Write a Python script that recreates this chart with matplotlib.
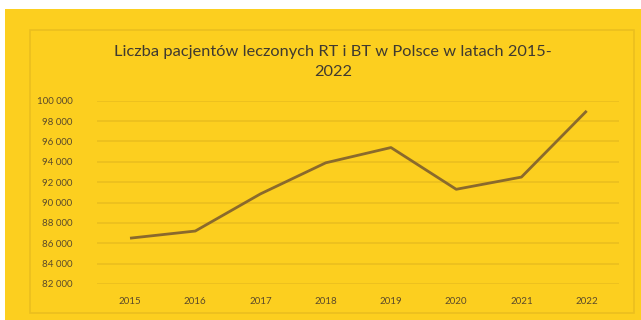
import matplotlib
matplotlib.use("Agg")
import matplotlib.pyplot as plt
from matplotlib.patches import Rectangle
from matplotlib.ticker import FuncFormatter

years    = ["2015", "2016", "2017", "2018", "2019", "2020", "2021", "2022"]
patients = [86500, 87200, 90850, 93900, 95400, 91300, 92500, 99000]

yellow   = "#FCCF1F"
gridCol  = "#EBBF1E"
lineCol  = "#8A6A2C"
textCol  = "#5B4A2A"

plt.rcParams['font.family'] = ['Lato', 'DejaVu Sans']

fig = plt.figure(figsize = (6.41, 3.20), dpi = 100)
fig.patch.set_facecolor("white")

# yellow card + chart border (pixel coords turned into figure fractions)
W, H = 641.0, 320.0
fig.patches.append(Rectangle((5 / W, 0), 1, 1 - 9 / H, transform = fig.transFigure,
                             facecolor = yellow, edgecolor = "none", zorder = -2))
fig.patches.append(Rectangle((30 / W, 1 - 313 / H), (634 - 30) / W, (313 - 30) / H,
                             transform = fig.transFigure, facecolor = "none",
                             edgecolor = gridCol, linewidth = 1.2, zorder = -1))

ax = fig.add_axes([97.4 / W, 1 - 284 / H, (619.3 - 97.4) / W, (284 - 100.7) / H])
ax.set_facecolor("none")
ax.set_zorder(2)

x = list(range(len(years)))
ax.plot(x, patients, color = lineCol, linewidth = 2.0, solid_capstyle = "butt")

ax.set_xlim(-0.5, len(years) - 0.5)
ax.set_ylim(82000, 100000)
ax.set_yticks(range(82000, 100001, 2000))
ax.yaxis.set_major_formatter(FuncFormatter(lambda v, p: f"{int(v):,}".replace(",", " ")))
ax.set_xticks(x)
ax.set_xticklabels(years)

ax.grid(axis = 'y', color = gridCol, linewidth = 1.2)
ax.set_axisbelow(True)
for s in ax.spines.values():
    s.set_visible(False)
ax.tick_params(length = 0, labelsize = 7, labelcolor = textCol)
ax.tick_params(axis = 'y', pad = 18)
ax.tick_params(axis = 'x', pad = 9)

fig.text(333 / W, 1 - 62 / H, "Liczba pacjentów leczonych RT i BT w Polsce w latach 2015-\n2022",
         ha = "center", va = "center", fontsize = 11.8, color = "#3F3A30", linespacing = 1.5)

fig.savefig("out.png", dpi = 100)
